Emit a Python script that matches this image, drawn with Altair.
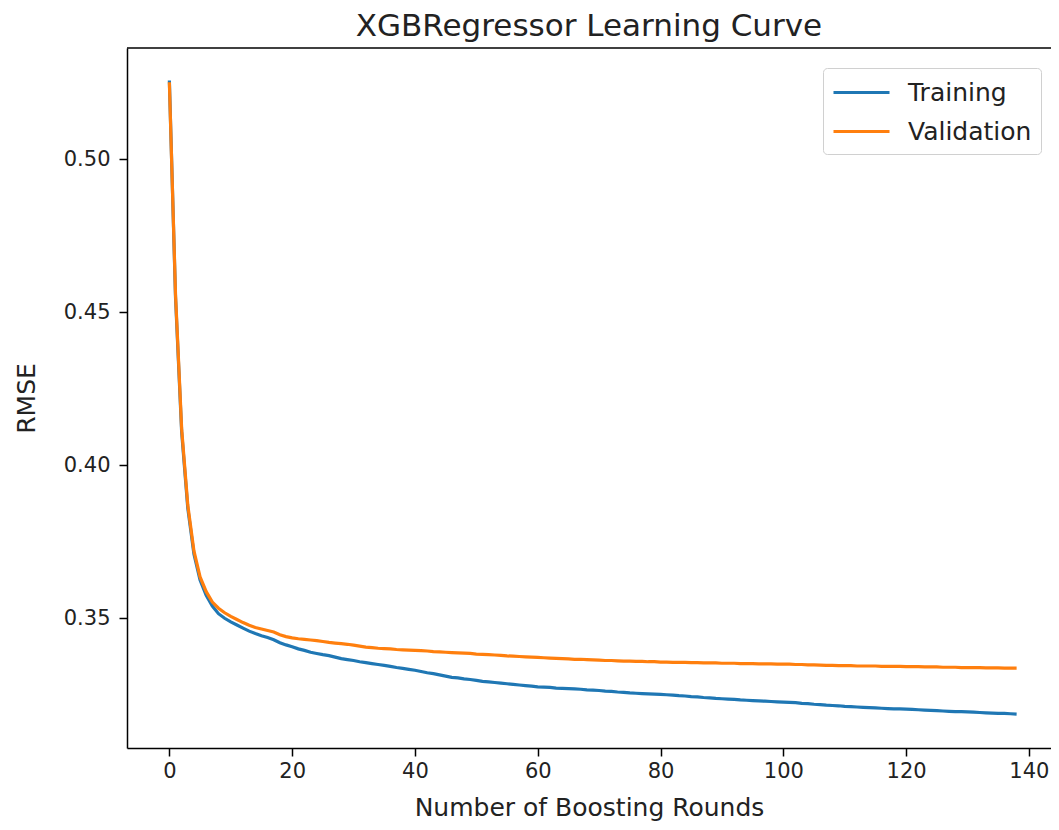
import altair as alt
import pandas as pd

rounds = list(range(139))

train_rmse = [
    0.5258, 0.4550, 0.4110, 0.3860, 0.3710, 0.3625, 0.3575, 0.3540, 0.3515, 0.3500,
    0.3488, 0.3478, 0.3468, 0.3458, 0.3450, 0.3443, 0.3437, 0.3430, 0.3420, 0.3413,
    0.3407, 0.3400, 0.3395, 0.3389, 0.3385, 0.3381, 0.3378, 0.3373, 0.3368, 0.3365,
    0.3362, 0.3358, 0.3355, 0.3352, 0.3349, 0.3346, 0.3343, 0.3339, 0.3336, 0.3333,
    0.3330, 0.3326, 0.3322, 0.3319, 0.3315, 0.3311, 0.3307, 0.3305, 0.3302, 0.3300,
    0.3297, 0.3294, 0.3292, 0.3290, 0.3288, 0.3286, 0.3284, 0.3282, 0.3280, 0.3278,
    0.3276, 0.3275, 0.3274, 0.3272, 0.3271, 0.3270, 0.3269, 0.3268, 0.3266, 0.3265,
    0.3264, 0.3262, 0.3261, 0.3259, 0.3258, 0.3256, 0.3255, 0.3254, 0.3253, 0.3252,
    0.3251, 0.3250, 0.3249, 0.3247, 0.3246, 0.3244, 0.3243, 0.3241, 0.3240, 0.3238,
    0.3237, 0.3236, 0.3235, 0.3233, 0.3232, 0.3231, 0.3230, 0.3229, 0.3228, 0.3227,
    0.3226, 0.3225, 0.3224, 0.3222, 0.3221, 0.3219, 0.3218, 0.3216, 0.3215, 0.3214,
    0.3212, 0.3211, 0.3210, 0.3209, 0.3208, 0.3207, 0.3206, 0.3205, 0.3204, 0.3204,
    0.3203, 0.3202, 0.3201, 0.3200, 0.3199, 0.3198, 0.3197, 0.3196, 0.3195, 0.3195,
    0.3194, 0.3193, 0.3192, 0.3191, 0.3190, 0.3189, 0.3189, 0.3188, 0.3187,
]

valid_rmse = [
    0.5252, 0.4560, 0.4120, 0.3870, 0.3720, 0.3635, 0.3587, 0.3553, 0.3533, 0.3518,
    0.3506, 0.3496, 0.3486, 0.3477, 0.3470, 0.3465, 0.3460, 0.3455, 0.3446, 0.3440,
    0.3436, 0.3433, 0.3431, 0.3429, 0.3427, 0.3424, 0.3421, 0.3419, 0.3417, 0.3415,
    0.3412, 0.3409, 0.3406, 0.3404, 0.3402, 0.3401, 0.3400, 0.3398, 0.3397, 0.3396,
    0.3395, 0.3394, 0.3393, 0.3391, 0.3390, 0.3389, 0.3388, 0.3387, 0.3386, 0.3385,
    0.3383, 0.3382, 0.3381, 0.3380, 0.3379, 0.3377, 0.3376, 0.3375, 0.3374, 0.3373,
    0.3372, 0.3371, 0.3370, 0.3369, 0.3368, 0.3367, 0.3366, 0.3366, 0.3365, 0.3364,
    0.3363, 0.3362, 0.3362, 0.3361, 0.3360, 0.3360, 0.3359, 0.3359, 0.3358, 0.3358,
    0.3357, 0.3357, 0.3356, 0.3356, 0.3356, 0.3355, 0.3355, 0.3354, 0.3354, 0.3354,
    0.3353, 0.3353, 0.3353, 0.3352, 0.3352, 0.3352, 0.3351, 0.3351, 0.3351, 0.3350,
    0.3350, 0.3350, 0.3349, 0.3349, 0.3348, 0.3348, 0.3347, 0.3346, 0.3346, 0.3345,
    0.3345, 0.3345, 0.3344, 0.3344, 0.3344, 0.3344, 0.3343, 0.3343, 0.3343, 0.3343,
    0.3342, 0.3342, 0.3342, 0.3341, 0.3341, 0.3341, 0.3340, 0.3340, 0.3340, 0.3339,
    0.3339, 0.3339, 0.3339, 0.3338, 0.3338, 0.3338, 0.3337, 0.3337, 0.3337,
]

series_names = ["Training", "Validation"]
series_colors = ["#1f77b4", "#ff7f0e"]
x_ticks = [0, 20, 40, 60, 80, 100, 120, 140]
y_ticks = [0.35, 0.40, 0.45, 0.50]

df = pd.DataFrame({
    "round": rounds + rounds,
    "rmse": train_rmse + valid_rmse,
    "series": [series_names[0]] * len(rounds) + [series_names[1]] * len(rounds),
})

FONT = "DejaVu Sans"
W, H = 924, 700

lines = alt.Chart(df).mark_line(strokeWidth=3.2).encode(
    x=alt.X(
        "round:Q",
        scale=alt.Scale(domain=[-6.9, 143.6], nice=False, zero=False),
        axis=alt.Axis(
            values=x_ticks, title="Number of Boosting Rounds", grid=False,
            labelFontSize=21, titleFontSize=25, labelFont=FONT, titleFont=FONT,
            tickSize=8, tickWidth=1.5, domainWidth=1.5, domainColor="black",
            tickColor="black", labelColor="#222222", titleColor="#222222",
            labelPadding=4, titlePadding=14, titleFontWeight="normal",
        ),
    ),
    y=alt.Y(
        "rmse:Q",
        scale=alt.Scale(domain=[0.3076, 0.5364], nice=False, zero=False),
        axis=alt.Axis(
            values=y_ticks, format=".2f", title="RMSE", grid=False,
            labelFontSize=21, titleFontSize=25, labelFont=FONT, titleFont=FONT,
            tickSize=8, tickWidth=1.5, domainWidth=1.5, domainColor="black",
            tickColor="black", labelColor="#222222", titleColor="#222222",
            labelPadding=9, titlePadding=24, titleFontWeight="normal",
        ),
    ),
    color=alt.Color(
        "series:N",
        scale=alt.Scale(domain=series_names, range=series_colors),
        legend=alt.Legend(
            title=None, orient="none", legendX=696, legendY=20,
            symbolType="M-1,0H3", symbolSize=784, symbolStrokeWidth=3,
            labelFontSize=25, labelFont=FONT, labelColor="#222222",
            strokeColor="#d0d0d0", fillColor="white", cornerRadius=4,
            padding=9, rowPadding=10, labelOffset=45,
        ),
    ),
)

top_spine = alt.Chart(pd.DataFrame({"k": [0]})).mark_rule(
    color="black", strokeWidth=1.5
).encode(x=alt.value(0), x2=alt.value(W), y=alt.value(0))

chart = alt.layer(lines, top_spine).properties(
    width=W, height=H,
    title=alt.TitleParams(
        "XGBRegressor Learning Curve", fontSize=31, font=FONT,
        fontWeight="normal", color="#222222", offset=4,
    ),
    autosize=alt.AutoSizeParams(type="none"),
    padding={"left": 119, "top": 40, "right": 0, "bottom": 74},
).configure_view(stroke=None)

chart.save("out.html", embed_options={"renderer": "svg", "actions": False})
